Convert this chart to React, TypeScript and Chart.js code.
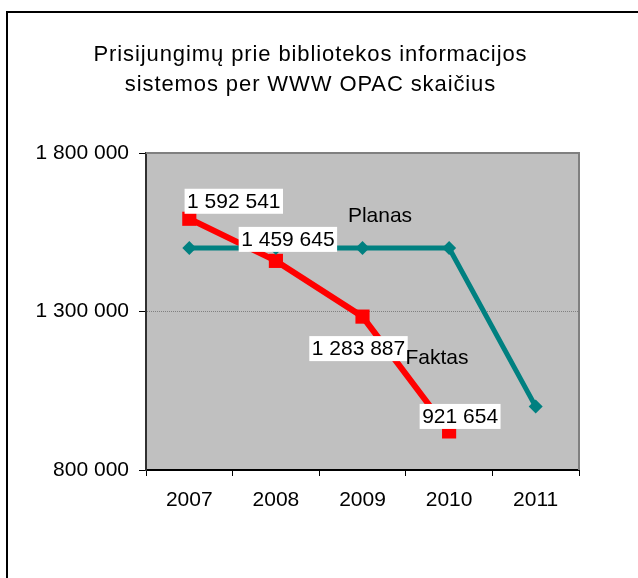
import React, { useEffect, useRef } from "react";
import { Chart, registerables } from "chart.js";

Chart.register(...registerables);

const titleLines = ["Prisijungimų prie bibliotekos informacijos", "sistemos per WWW OPAC skaičius"];
const categories = ["2007", "2008", "2009", "2010", "2011"];
const planasValues = [1500000, 1500000, 1500000, 1500000, 1000000];
const faktasValues = [1592541, 1459645, 1283887, 921654, null];
const yTickValues = [800000, 1300000, 1800000];
const planasName = "Planas";
const faktasName = "Faktas";

const FONT = "'Liberation Sans', Arial, sans-serif";

const fmt = (n: number) => String(n).replace(/\B(?=(\d{3})+(?!\d))/g, " ");

// label centre offsets relative to each Faktas point (style only)
const faktasLabelOffsets = [
  [44.5, -17.5],
  [12, -21.5],
  [-4, 32],
  [11, -15],
];

const decorPlugin = {
  id: "decor",
  beforeDraw(chart: any) {
    const { ctx, chartArea } = chart;
    ctx.save();
    ctx.fillStyle = "#ffffff";
    ctx.fillRect(0, 0, chart.width, chart.height);
    ctx.fillStyle = "#C0C0C0";
    ctx.fillRect(chartArea.left, chartArea.top, chartArea.right - chartArea.left, chartArea.bottom - chartArea.top);
    // outer frame
    ctx.fillStyle = "#000";
    ctx.fillRect(6, 11, 2, chart.height);
    ctx.fillRect(6, 11, chart.width, 2);
    // title
    ctx.fillStyle = "#000";
    ctx.font = `22px ${FONT}`;
    try {
      (ctx as any).letterSpacing = "0.9px";
    } catch (e) {}
    ctx.textAlign = "center";
    ctx.textBaseline = "alphabetic";
    ctx.fillText(titleLines[0], 310.5, 61);
    ctx.fillText(titleLines[1], 310.5, 91);
    try {
      (ctx as any).letterSpacing = "0px";
    } catch (e) {}
    ctx.restore();
  },
  beforeDatasetsDraw(chart: any) {
    const { ctx, chartArea } = chart;
    ctx.save();
    ctx.strokeStyle = "#808080";
    ctx.lineWidth = 2;
    ctx.beginPath();
    ctx.moveTo(chartArea.left, chartArea.top);
    ctx.lineTo(chartArea.right, chartArea.top);
    ctx.lineTo(chartArea.right, chartArea.bottom);
    ctx.stroke();
    ctx.restore();
  },
  afterDatasetsDraw(chart: any) {
    const { ctx } = chart;
    const planasMeta = chart.getDatasetMeta(0);
    const faktasMeta = chart.getDatasetMeta(1);
    ctx.save();
    ctx.font = `21px ${FONT}`;
    ctx.textBaseline = "middle";
    // value labels
    faktasValues.forEach((v, i) => {
      if (v == null) return;
      const pt = faktasMeta.data[i];
      const [dx, dy] = faktasLabelOffsets[i];
      const text = fmt(v);
      const w = ctx.measureText(text).width + 5;
      const h = 25;
      const cx = pt.x + dx;
      const cy = pt.y + dy;
      ctx.fillStyle = "#ffffff";
      ctx.fillRect(cx - w / 2, cy - h / 2, w, h);
      ctx.fillStyle = "#000";
      ctx.textAlign = "center";
      ctx.fillText(text, cx, cy + 1);
    });
    // series names
    ctx.fillStyle = "#000";
    ctx.textAlign = "left";
    const p2 = planasMeta.data[2];
    ctx.fillText(planasName, p2.x - 14.6, p2.y - 32);
    const f2 = faktasMeta.data[2];
    ctx.fillText(faktasName, f2.x + 43, f2.y + 42);
    ctx.restore();
  },
};

export default function App() {
  const ref = useRef<HTMLCanvasElement | null>(null);
  useEffect(() => {
    if (!ref.current) return;
    const chart = new Chart(ref.current, {
      type: "line",
      data: {
        labels: categories,
        datasets: [
          {
            label: planasName,
            data: planasValues,
            borderColor: "#008080",
            backgroundColor: "#008080",
            borderWidth: 5,
            pointStyle: "rectRot",
            pointRadius: 7,
            pointBorderWidth: 0,
            pointBackgroundColor: "#008080",
            tension: 0,
            borderJoinStyle: "miter",
          },
          {
            label: faktasName,
            data: faktasValues,
            borderColor: "#FF0000",
            backgroundColor: "#FF0000",
            borderWidth: 6,
            pointStyle: "rect",
            pointRadius: 10,
            pointBorderWidth: 0,
            pointBackgroundColor: "#FF0000",
            tension: 0,
            spanGaps: false,
          },
        ],
      },
      options: {
        responsive: false,
        animation: false,
        events: [],
        layout: { padding: { left: 0, top: 153, right: 59, bottom: 68 } },
        plugins: { legend: { display: false }, tooltip: { enabled: false }, title: { display: false } },
        scales: {
          x: {
            type: "category",
            offset: true,
            grid: {
              offset: true,
              drawOnChartArea: false,
              drawTicks: true,
              tickLength: 6,
              tickColor: "#000",
              tickWidth: 1,
              color: "#000",
            },
            border: { display: true, color: "#000", width: 2 },
            ticks: { color: "#000", font: { family: FONT, size: 21 }, padding: 12, maxRotation: 0 },
            afterFit: (s: any) => {
              s.height = 40;
            },
          },
          y: {
            min: 800000,
            max: 1800000,
            afterBuildTicks: (s: any) => {
              s.ticks = yTickValues.map((v) => ({ value: v }));
            },
            grid: {
              drawOnChartArea: true,
              color: (c: any) => (c.tick && c.tick.value === 1300000 ? "#808080" : "rgba(0,0,0,0)"),
              lineWidth: 1,
              tickLength: 7,
              tickColor: "#000",
              tickWidth: 1,
            },
            border: { display: true, color: "#303030", width: 2, dash: [1, 1] },
            ticks: {
              color: "#000",
              font: { family: FONT, size: 21 },
              padding: 10,
              callback: (v: any) => fmt(Number(v)),
            },
            afterFit: (s: any) => {
              s.width = 146;
            },
          },
        },
      },
      plugins: [decorPlugin],
    } as any);
    return () => chart.destroy();
  }, []);
  return (
    <canvas
      ref={ref}
      width={638}
      height={578}
      style={{ position: "absolute", left: 0, top: 0, display: "block" }}
    />
  );
}
